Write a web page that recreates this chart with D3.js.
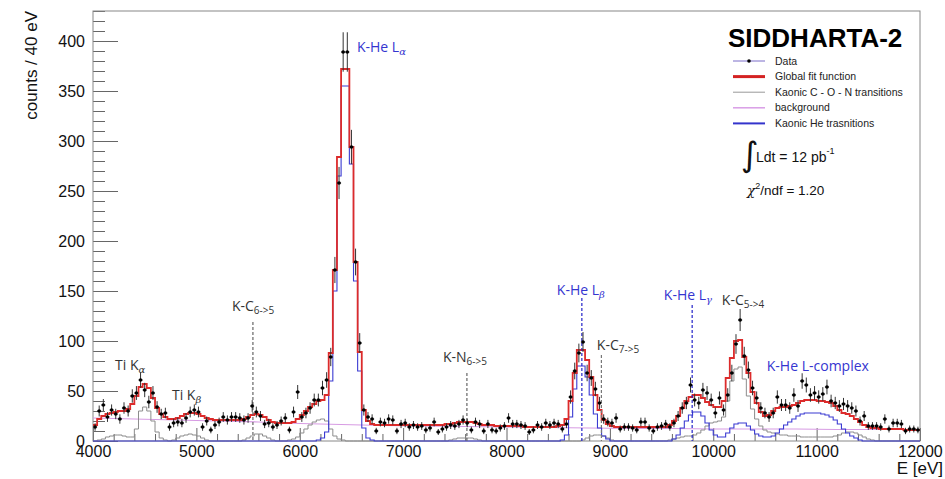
<!DOCTYPE html>
<html>
<head>
<meta charset="utf-8">
<script src="https://cdn.jsdelivr.net/npm/d3@7"></script>
<style>
body { margin: 0; background: #fff; }
svg { display: block; font-family: "Liberation Sans", Arial, Helvetica, sans-serif; }
.peak { font-family: "Open Sans", sans-serif; font-size: 14px; }
</style>
</head>
<body>
<svg id="chart" width="945" height="479"></svg>
<script>
var eStart = 4000, binWidth = 40;

// counts per 40 eV bin, 4000 -> 12000 eV
var dataCounts = [
    14, 30, 36, 24, 31, 27, 22, 33, 30, 45,
    48, 61, 51, 39, 48, 34, 27, 28, 14, 18,
    19, 18, 23, 29, 31, 29, 14, 20, 11, 16,
    19, 24, 21, 24, 24, 23, 21, 23, 35, 29,
    25, 17, 18, 14, 16, 20, 23, 11, 29, 49,
    24, 28, 33, 41, 41, 53, 61, 84, 171, 258,
    389, 389, 294, 179, 98, 31, 24, 22, 10, 19,
    18, 22, 21, 10, 17, 18, 14, 16, 14, 15,
    11, 13, 19, 9, 12, 14, 16, 15, 17, 21,
    18, 11, 19, 17, 10, 17, 11, 10, 13, 15,
    23, 17, 17, 16, 15, 9, 11, 16, 14, 18,
    16, 18, 17, 12, 17, 44, 70, 88, 99, 68,
    63, 52, 38, 22, 19, 18, 23, 12, 14, 14,
    13, 11, 19, 19, 13, 10, 14, 15, 17, 14,
    18, 25, 33, 38, 56, 41, 38, 51, 48, 41,
    28, 43, 31, 46, 68, 97, 121, 85, 71, 53,
    43, 33, 28, 24, 28, 44, 36, 36, 33, 46,
    35, 60, 56, 46, 48, 44, 47, 54, 40, 38,
    35, 37, 35, 33, 30, 20, 25, 15, 15, 15,
    14, 22, 12, 18, 18, 17, 10, 12, 12, 11
];

var fitGlobal = [
    16, 22, 25, 27, 28, 29, 30, 30, 32, 37,
    45, 54, 57, 53, 43, 33, 27, 24, 22, 22,
    23, 25, 27, 28, 28, 27, 25, 23, 22, 21,
    21, 21, 21, 21, 21, 21, 22, 24, 26, 27,
    26, 24, 21, 19, 18, 18, 18, 18, 19, 22,
    26, 30, 34, 37, 40, 41, 46, 88, 171, 284,
    372, 372, 294, 179, 89, 31, 20, 17, 16, 16,
    16, 16, 16, 16, 16, 16, 16, 16, 16, 16,
    16, 16, 16, 16, 16, 17, 17, 18, 19, 19,
    19, 19, 18, 17, 16, 16, 16, 15, 15, 15,
    15, 15, 15, 15, 14, 14, 14, 14, 14, 14,
    14, 14, 15, 16, 22, 40, 68, 91, 91, 81,
    64, 46, 31, 21, 17, 15, 14, 14, 14, 14,
    14, 14, 14, 14, 14, 14, 14, 14, 14, 16,
    20, 25, 33, 40, 44, 46, 46, 43, 39, 36,
    34, 34, 40, 63, 83, 100, 101, 84, 68, 49,
    38, 29, 25, 26, 30, 33, 34, 34, 35, 36,
    38, 40, 41, 41, 41, 40, 40, 39, 38, 35,
    31, 28, 27, 25, 22, 19, 16, 14, 13, 13,
    12, 12, 12, 12, 12, 12, 11, 11, 11, 11
];

var fitCON = [
    0, 1, 2, 4, 5, 6, 6, 5, 4, 4,
    12, 30, 34, 30, 20, 9, 3, 1, 0, 1,
    3, 5, 6, 7, 6, 5, 3, 1, 0, 0,
    0, 0, 0, 0, 0, 0, 1, 3, 5, 7,
    7, 5, 3, 1, 0, 0, 0, 1, 2, 4,
    8, 12, 16, 19, 21, 22, 20, 12, 5, 2,
    1, 0, 0, 0, 0, 0, 0, 0, 0, 0,
    0, 0, 0, 0, 0, 0, 0, 0, 0, 0,
    0, 0, 0, 0, 0, 0, 1, 2, 3, 3,
    3, 3, 2, 1, 0, 0, 0, 0, 0, 0,
    0, 0, 0, 0, 0, 0, 0, 0, 0, 0,
    0, 0, 0, 0, 0, 0, 0, 0, 1, 3,
    5, 6, 6, 5, 3, 1, 0, 0, 0, 0,
    0, 0, 0, 0, 0, 0, 0, 0, 0, 1,
    2, 3, 4, 5, 5, 6, 8, 11, 15, 18,
    19, 20, 24, 40, 60, 72, 74, 62, 45, 32,
    22, 15, 11, 9, 8, 7, 6, 6, 5, 5,
    5, 4, 4, 4, 4, 4, 4, 4, 4, 5,
    6, 8, 9, 9, 8, 6, 4, 2, 1, 0,
    0, 0, 0, 0, 0, 0, 0, 0, 0, 0
];

var fitHe = [
    0, 0, 0, 0, 0, 0, 0, 0, 0, 0,
    0, 0, 0, 0, 0, 0, 0, 0, 0, 0,
    0, 0, 0, 0, 0, 0, 0, 0, 0, 0,
    0, 0, 0, 0, 0, 0, 0, 0, 0, 0,
    0, 0, 0, 0, 0, 0, 0, 0, 0, 0,
    0, 0, 0, 0, 1, 3, 9, 60, 150, 265,
    355, 355, 277, 160, 70, 13, 3, 1, 0, 0,
    0, 0, 0, 0, 0, 0, 0, 0, 0, 0,
    0, 0, 0, 0, 0, 0, 0, 0, 0, 0,
    0, 0, 0, 0, 0, 0, 0, 0, 0, 0,
    0, 0, 0, 0, 0, 0, 0, 0, 0, 0,
    0, 0, 0, 1, 6, 24, 52, 75, 75, 64,
    46, 27, 13, 5, 2, 0, 0, 0, 0, 0,
    0, 0, 0, 0, 0, 0, 0, 0, 0, 0,
    2, 6, 13, 20, 26, 29, 29, 25, 18, 11,
    6, 4, 4, 8, 13, 17, 18, 18, 15, 11,
    7, 5, 4, 4, 5, 8, 12, 16, 19, 22,
    25, 27, 28, 28, 28, 28, 27, 26, 24, 21,
    17, 12, 8, 5, 3, 1, 0, 0, 0, 0,
    0, 0, 0, 0, 0, 0, 0, 0, 0, 0
];

var bgEnergy = [4000, 4400, 4800, 5200, 5600, 6000, 6400, 6800, 7200, 7600, 8000,
                8400, 8800, 9200, 9600, 10000, 10400, 10800, 11200, 11600, 12000];
var bgValue = [23, 22, 21, 20, 19, 17.5, 16.5, 15.5, 15, 14.5, 14,
               13.5, 13, 12.5, 12.5, 12, 12, 12, 11.5, 11.5, 11.5];

var xTicks = [4000, 5000, 6000, 7000, 8000, 9000, 10000, 11000, 12000];
var yTicks = [0, 50, 100, 150, 200, 250, 300, 350, 400];

var legendNames = ['Data', 'Global fit function', 'Kaonic C - O - N transitions', 'background', 'Kaonic He trasnitions'];

// peak annotations: energy / count anchor of the text, and dashed marker lines
var peakLabels = [
    {main: 'Ti K', sub: '\u03b1', italic: true, e: 4213, v: 71, color: '#333'},
    {main: 'Ti K', sub: '\u03b2', italic: true, e: 4764, v: 41, color: '#333'},
    {main: 'K-C', sub: '6->5', e: 5344, v: 130, color: '#333'},
    {main: 'K-He L', sub: '\u03b1', italic: true, e: 6553, v: 389, color: '#3535d0'},
    {main: 'K-N', sub: '6->5', e: 7385, v: 79, color: '#333'},
    {main: 'K-He L', sub: '\u03b2', italic: true, e: 8487, v: 146, color: '#3535d0'},
    {main: 'K-C', sub: '7->5', e: 8874, v: 91, color: '#333'},
    {main: 'K-He L', sub: '\u03b3', italic: true, e: 9522, v: 141, color: '#3535d0'},
    {main: 'K-C', sub: '5->4', e: 10083, v: 136, color: '#333'},
    {main: 'K-He L-complex', sub: '', e: 10518, v: 70, color: '#3535d0'}
];
var markerLines = [
    {e: 5547, top: 119, color: '#666'},
    {e: 7617, top: 68, color: '#666'},
    {e: 8729, top: 143, color: '#2323c8'},
    {e: 8918, top: 86, color: '#777'},
    {e: 9796, top: 136, color: '#2323c8'}
];

var options = {
    left: 93, right: 920, top: 11, bottom: 441,
    majorTick: 25, minorTick: 12, xMajorTick: 13, xMinorTick: 7
};

var svg = d3.select('#chart');
var x = d3.scaleLinear().domain([4000, 12000]).range([options.left, options.right]);
var y = d3.scaleLinear().domain([0, 430]).range([options.bottom, options.top]);

// axes (ticks inside the frame, ROOT style)
var yMinor = d3.range(0, 431, 10).filter(function(d){ return d % 50 !== 0; });
var xMinor = d3.range(4000, 12001, 200).filter(function(d){ return d % 1000 !== 0; });

var yAxisG = svg.append('g').attr('class', 'y axis').attr('transform', 'translate(' + options.left + ',0)');
yAxisG.call(d3.axisLeft(y).tickValues(yTicks).tickSize(-options.majorTick).tickPadding(8).tickFormat(d3.format('d')));
var yMinorG = svg.append('g').attr('transform', 'translate(' + options.left + ',0)');
yMinorG.call(d3.axisLeft(y).tickValues(yMinor).tickSize(-options.minorTick).tickFormat(''));

var xAxisG = svg.append('g').attr('class', 'x axis').attr('transform', 'translate(0,' + options.bottom + ')');
xAxisG.call(d3.axisBottom(x).tickValues(xTicks).tickSize(-options.xMajorTick).tickPadding(5).tickFormat(d3.format('d')));
var xMinorG = svg.append('g').attr('transform', 'translate(0,' + options.bottom + ')');
xMinorG.call(d3.axisBottom(x).tickValues(xMinor).tickSize(-options.xMinorTick).tickFormat(''));

svg.selectAll('.domain').remove();
svg.selectAll('.tick line').attr('stroke', '#666');
svg.selectAll('.axis text').attr('font-size', 16).attr('fill', '#111')
    .attr('font-family', '"Liberation Sans", Arial, sans-serif');

svg.append('rect')
    .attr('x', options.left).attr('y', options.top)
    .attr('width', options.right - options.left).attr('height', options.bottom - options.top)
    .attr('fill', 'none').attr('stroke', '#888');

svg.append('text')
    .attr('transform', 'translate(37,' + options.top + ')rotate(-90)')
    .attr('text-anchor', 'end')
    .attr('font-size', 17)
    .attr('fill', '#111')
    .text('counts / 40 eV');

svg.append('text')
    .attr('x', 943).attr('y', 474)
    .attr('text-anchor', 'end')
    .attr('font-size', 17)
    .attr('fill', '#111')
    .text('E [eV]');

// histogram outlines
function stepPoints(values) {
    var pts = [];
    values.forEach(function(v, i){
        pts.push([eStart + i * binWidth, v]);
        pts.push([eStart + (i + 1) * binWidth, v]);
    });
    return pts;
}
var line = d3.line().x(function(d){ return x(d[0]); }).y(function(d){ return y(d[1]); });

var plotG = svg.append('g').attr('class', 'plot');

plotG.append('path')
    .attr('d', line(bgEnergy.map(function(e, i){ return [e, bgValue[i]]; })))
    .attr('fill', 'none').attr('stroke', '#d79be3').attr('stroke-width', 1.2);

plotG.append('path')
    .attr('d', line(stepPoints(fitCON)))
    .attr('fill', 'none').attr('stroke', '#8c8c8c').attr('stroke-width', 1);

plotG.append('path')
    .attr('d', line(stepPoints(fitHe)))
    .attr('fill', 'none').attr('stroke', '#3a3ad2').attr('stroke-width', 1.1);

plotG.append('path')
    .attr('d', line(stepPoints(fitGlobal)))
    .attr('fill', 'none').attr('stroke', '#dc2b2b').attr('stroke-width', 1.8);

// dashed markers
plotG.selectAll('.marker')
    .data(markerLines)
    .enter()
    .append('line')
    .attr('class', 'marker')
    .attr('x1', function(d){ return x(d.e); })
    .attr('x2', function(d){ return x(d.e); })
    .attr('y1', function(d){ return y(d.top); })
    .attr('y2', y(0))
    .attr('stroke', function(d){ return d.color; })
    .attr('stroke-width', 1.2)
    .attr('stroke-dasharray', '3,2');

// data points with error bars
var points = dataCounts.map(function(c, i){ return {e: eStart + (i + 0.5) * binWidth, c: c}; });
var dataG = plotG.selectAll('.dot')
    .data(points)
    .enter()
    .append('g')
    .attr('class', 'dot');
dataG.append('line')
    .attr('x1', function(d){ return x(d.e); })
    .attr('x2', function(d){ return x(d.e); })
    .attr('y1', function(d){ return y(d.c + Math.sqrt(d.c)); })
    .attr('y2', function(d){ return y(Math.max(0, d.c - Math.sqrt(d.c))); })
    .attr('stroke', '#333').attr('stroke-width', 1);
dataG.append('line')
    .attr('x1', function(d){ return x(d.e - binWidth / 2); })
    .attr('x2', function(d){ return x(d.e + binWidth / 2); })
    .attr('y1', function(d){ return y(d.c); })
    .attr('y2', function(d){ return y(d.c); })
    .attr('stroke', '#333').attr('stroke-width', 1);
dataG.append('circle')
    .attr('cx', function(d){ return x(d.e); })
    .attr('cy', function(d){ return y(d.c); })
    .attr('r', 1.8)
    .attr('fill', '#000');

// peak labels
var labelSel = svg.selectAll('.peak')
    .data(peakLabels)
    .enter()
    .append('text')
    .attr('class', 'peak')
    .attr('x', function(d){ return x(d.e); })
    .attr('y', function(d){ return y(d.v); })
    .attr('fill', function(d){ return d.color; });
labelSel.append('tspan').text(function(d){ return d.main; });
labelSel.append('tspan')
    .attr('dy', 3)
    .attr('font-size', 10)
    .attr('font-style', function(d){ return d.italic ? 'italic' : 'normal'; })
    .attr('font-family', function(d){ return d.italic ? '"DejaVu Serif", serif' : null; })
    .text(function(d){ return d.sub; });

// title and legend
svg.append('text')
    .attr('x', 728).attr('y', 47)
    .attr('font-size', 26).attr('font-weight', 'bold')
    .attr('fill', '#000')
    .text('SIDDHARTA-2');

var legendStyles = [
    {color: '#7a6cc8', width: 1},
    {color: '#d42222', width: 3},
    {color: '#999', width: 1},
    {color: '#d99de6', width: 1.5},
    {color: '#3434cc', width: 2}
];
var legendG = svg.append('g').attr('class', 'legend');
var rows = legendG.selectAll('.row')
    .data(legendNames)
    .enter()
    .append('g')
    .attr('class', 'row')
    .attr('transform', function(d, i){ return 'translate(733,' + (61 + i * 15.6) + ')'; });
rows.append('line')
    .attr('x1', 0).attr('x2', 32)
    .attr('stroke', function(d, i){ return legendStyles[i].color; })
    .attr('stroke-width', function(d, i){ return legendStyles[i].width; });
rows.filter(function(d, i){ return i === 0; })
    .append('circle').attr('cx', 16).attr('r', 1.8).attr('fill', '#000');
rows.append('text')
    .attr('x', 42).attr('dy', '0.35em')
    .attr('font-size', 10.5)
    .attr('fill', '#222')
    .text(function(d){ return d; });

svg.append('text')
    .attr('x', 741).attr('y', 166)
    .attr('font-size', 34)
    .attr('font-family', '"DejaVu Sans", sans-serif')
    .attr('fill', '#111')
    .text('\u222b');
var lumi = svg.append('text')
    .attr('x', 756).attr('y', 162)
    .attr('font-size', 14)
    .attr('fill', '#111');
lumi.append('tspan').text('Ldt = 12 pb');
lumi.append('tspan').attr('dy', -8).attr('font-size', 9).text('-1');

var chi = svg.append('text')
    .attr('x', 747).attr('y', 195)
    .attr('font-size', 13.5)
    .attr('fill', '#111');
chi.append('tspan').attr('font-family', '"DejaVu Serif", serif').attr('font-style', 'italic').text('\u03c7');
chi.append('tspan').attr('dy', -6).attr('font-size', 9).text('2');
chi.append('tspan').attr('dy', 6).text('/ndf = 1.20');
</script>
</body>
</html>
